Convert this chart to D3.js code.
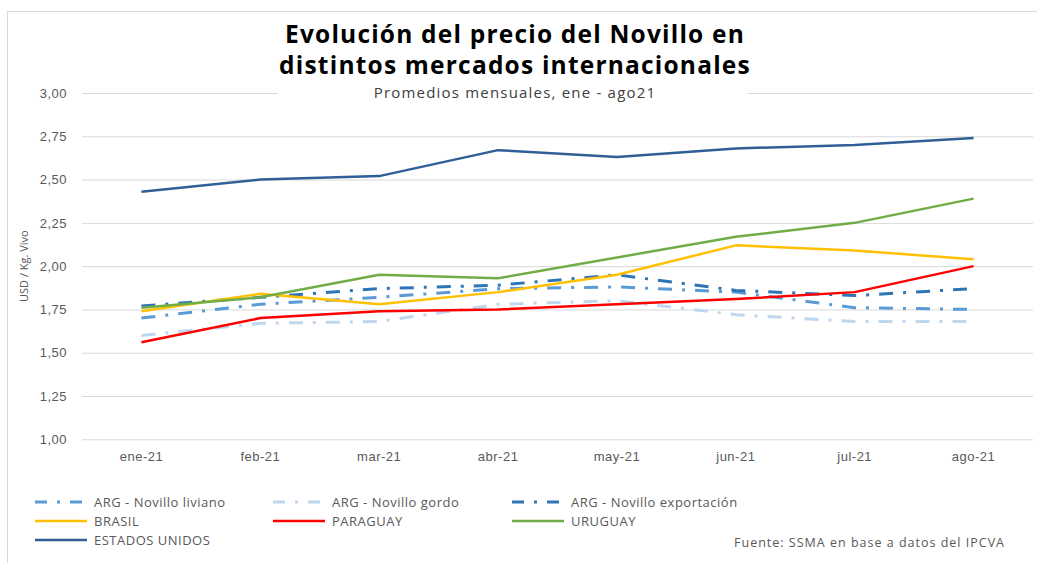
<!DOCTYPE html>
<html>
<head>
<meta charset="utf-8">
<script src="https://cdn.jsdelivr.net/npm/d3@7"></script>
<style>
  html, body { margin: 0; padding: 0; background: #fff; }
  svg { display: block; font-family: "Open Sans", Lato, sans-serif; }
</style>
</head>
<body>
<div id="chart"></div>
<script>
var months = ['ene-21', 'feb-21', 'mar-21', 'abr-21', 'may-21', 'jun-21', 'jul-21', 'ago-21'];
var yTicks = [1, 1.25, 1.5, 1.75, 2, 2.25, 2.5, 2.75, 3];

var argLiviano = [1.70, 1.78, 1.82, 1.87, 1.88, 1.85, 1.76, 1.75];
var argGordo = [1.60, 1.67, 1.68, 1.78, 1.80, 1.72, 1.68, 1.68];
var argExportacion = [1.77, 1.82, 1.87, 1.89, 1.95, 1.86, 1.83, 1.87];
var brasil = [1.74, 1.84, 1.78, 1.85, 1.95, 2.12, 2.09, 2.04];
var paraguay = [1.56, 1.70, 1.74, 1.75, 1.78, 1.81, 1.85, 2.00];
var uruguay = [1.76, 1.82, 1.95, 1.93, 2.05, 2.17, 2.25, 2.39];
var estadosUnidos = [2.43, 2.50, 2.52, 2.67, 2.63, 2.68, 2.70, 2.74];

var series = [
  {name: 'ARG - Novillo liviano', values: argLiviano, color: '#5b9bd5', width: 3, dash: '14,10,3,10'},
  {name: 'ARG - Novillo gordo', values: argGordo, color: '#bdd7ee', width: 3, dash: '14,10,3,10'},
  {name: 'ARG - Novillo exportación', values: argExportacion, color: '#2e75b6', width: 3, dash: '14,10,3,10'},
  {name: 'BRASIL', values: brasil, color: '#ffc000', width: 2.5, dash: null},
  {name: 'PARAGUAY', values: paraguay, color: '#ff0000', width: 2.5, dash: null},
  {name: 'URUGUAY', values: uruguay, color: '#70ad47', width: 2.5, dash: null},
  {name: 'ESTADOS UNIDOS', values: estadosUnidos, color: '#2f5f96', width: 2.5, dash: null}
];

var width = 1037;
var height = 563;
var margin = {top: 93, right: 4, bottom: 124, left: 82};

var svg = d3.select('#chart').append('svg')
  .attr('width', width)
  .attr('height', height);

// outer frame
svg.append('rect')
  .attr('x', 7.5)
  .attr('y', 11.5)
  .attr('width', width + 10)
  .attr('height', height + 10)
  .attr('fill', 'none')
  .attr('stroke', '#d9d9d9');

var x = d3.scaleBand()
  .domain(months)
  .range([margin.left, width - margin.right]);

var y = d3.scaleLinear()
  .domain([1, 3])
  .range([height - margin.bottom + 0.3, margin.top]);

var locale = d3.formatLocale({decimal: ',', thousands: '.', grouping: [3], currency: ['$', '']});
var fmt = locale.format('.2f');

// grid + y labels
var yAxis = d3.axisLeft(y)
  .tickValues(yTicks)
  .tickSize(-(width - margin.left - margin.right))
  .tickPadding(15)
  .tickFormat(fmt);

var gy = svg.append('g')
  .attr('transform', 'translate(' + margin.left + ',0)')
  .call(yAxis);
gy.select('.domain').remove();
gy.selectAll('.tick line').attr('stroke', '#d9d9d9').attr('stroke-width', 1);
gy.selectAll('.tick text')
  .attr('fill', '#595959')
  .style('font-size', '13px')
  .style('letter-spacing', '0.5px');

// x labels
var xAxis = d3.axisBottom(x).tickSize(0).tickPadding(12);
var gx = svg.append('g')
  .attr('transform', 'translate(0,' + y(1) + ')')
  .call(xAxis);
gx.select('.domain').remove();
gx.selectAll('.tick text')
  .attr('fill', '#595959')
  .style('font-size', '13px')
  .style('letter-spacing', '0.5px');

// y axis title
svg.append('text')
  .attr('transform', 'translate(28,' + y(2) + ') rotate(-90)')
  .attr('text-anchor', 'middle')
  .attr('fill', '#595959')
  .style('font-size', '11px')
  .text('USD / Kg. Vivo');

// lines
var line = d3.line()
  .x(function (d, i) { return x(months[i]) + x.bandwidth() / 2; })
  .y(function (d) { return y(d); });

svg.append('g').selectAll('path')
  .data(series)
  .enter()
  .append('path')
  .attr('d', function (d) { return line(d.values); })
  .attr('fill', 'none')
  .attr('stroke', function (d) { return d.color; })
  .attr('stroke-width', function (d) { return d.width; })
  .attr('stroke-dasharray', function (d) { return d.dash; })
  .attr('stroke-linejoin', 'round');

// title block
svg.append('rect')
  .attr('x', 278)
  .attr('y', 14)
  .attr('width', 470)
  .attr('height', 86)
  .attr('fill', '#fff');

var titleLines = ['Evolución del precio del Novillo en', 'distintos mercados internacionales'];
svg.append('g').selectAll('text')
  .data(titleLines)
  .enter()
  .append('text')
  .attr('x', 515)
  .attr('y', function (d, i) { return 43 + i * 31; })
  .attr('text-anchor', 'middle')
  .style('font-size', '24.5px')
  .style('font-weight', 'bold')
  .style('letter-spacing', '1.2px')
  .attr('fill', '#000')
  .text(function (d) { return d; });

svg.append('text')
  .attr('x', 515)
  .attr('y', 98)
  .attr('text-anchor', 'middle')
  .style('font-size', '15px')
  .style('letter-spacing', '1.2px')
  .attr('fill', '#404040')
  .text('Promedios mensuales, ene - ago21');

// legend
var legendCols = [35, 273, 512];
var legendRows = [502, 521, 540];
var legend = svg.append('g').selectAll('g')
  .data(series)
  .enter()
  .append('g')
  .attr('transform', function (d, i) {
    return 'translate(' + legendCols[i % 3] + ',' + legendRows[Math.floor(i / 3)] + ')';
  });

legend.append('line')
  .attr('x1', 0)
  .attr('x2', 52)
  .attr('stroke', function (d) { return d.color; })
  .attr('stroke-width', function (d) { return d.width; })
  .attr('stroke-dasharray', function (d) { return d.dash ? '12,10,3,10' : null; });

legend.append('text')
  .attr('x', 59)
  .attr('dy', '0.35em')
  .attr('fill', '#595959')
  .style('font-size', '13px')
  .style('letter-spacing', '0.5px')
  .text(function (d) { return d.name; });

svg.append('text')
  .attr('x', 1005)
  .attr('y', 547)
  .attr('text-anchor', 'end')
  .attr('fill', '#595959')
  .style('font-size', '12.5px')
  .style('letter-spacing', '1px')
  .text('Fuente: SSMA en base a datos del  IPCVA');
</script>
</body>
</html>
